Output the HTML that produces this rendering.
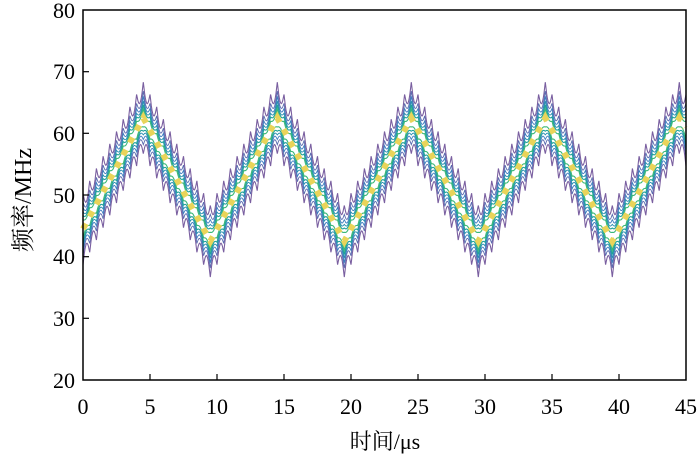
<!DOCTYPE html>
<html><head><meta charset="utf-8"><style>
body{margin:0;background:#fff;}
svg text{font-family:"Liberation Serif","Noto Serif CJK SC",serif;fill:#000;}
</style></head><body>
<svg id="s" width="700" height="460" viewBox="0 0 700 460" xmlns="http://www.w3.org/2000/svg">
<g id="curves"></g>
<rect x="83" y="10" width="603" height="370" fill="none" stroke="#000" stroke-width="1.5"/>
<g stroke="#000" stroke-width="1.2">
<line x1="83" y1="71.7" x2="89" y2="71.7"/><line x1="83" y1="133.3" x2="89" y2="133.3"/><line x1="83" y1="195" x2="89" y2="195"/><line x1="83" y1="256.7" x2="89" y2="256.7"/><line x1="83" y1="318.3" x2="89" y2="318.3"/>
<line x1="150" y1="380" x2="150" y2="374"/><line x1="217" y1="380" x2="217" y2="374"/><line x1="284" y1="380" x2="284" y2="374"/><line x1="351" y1="380" x2="351" y2="374"/><line x1="418" y1="380" x2="418" y2="374"/><line x1="485" y1="380" x2="485" y2="374"/><line x1="552" y1="380" x2="552" y2="374"/><line x1="619" y1="380" x2="619" y2="374"/>
</g>
<g font-size="22" text-anchor="end">
<text x="75" y="18">80</text><text x="75" y="79">70</text><text x="75" y="141">60</text><text x="75" y="203">50</text><text x="75" y="264">40</text><text x="75" y="326">30</text><text x="75" y="388">20</text>
</g>
<g font-size="22" text-anchor="middle">
<text x="83" y="414">0</text><text x="150" y="414">5</text><text x="217" y="414">10</text><text x="284" y="414">15</text><text x="351" y="414">20</text><text x="418" y="414">25</text><text x="485" y="414">30</text><text x="552" y="414">35</text><text x="619" y="414">40</text><text x="686" y="414">45</text>
<text x="385" y="449">时间/μs</text>
<text font-size="24" transform="translate(31,200) rotate(-90)">频率/MHz</text>
</g>
</svg>
<script>
var g=document.getElementById('curves');
function X(t){return 83+t*603/45;}
function Y(f){return 380-(f-20)*370/60;}
function c(t){var p=((t-4.5)%10+10)%10;var tri=p<5?1-p/2.5:-1+(p-5)/2.5;return 52.5+10*tri;}
var L=[[4.6,1.2,'#7a5fa0',1.1],[3.5,0.85,'#5a6bb0',0.9],[2.8,0.7,'#3f7ec0',0.9],[2.2,0.55,'#2a8fb0',0.9],[1.7,0.45,'#22a39a',1.1],[1.1,0.35,'#3cb878',1.1]];
var h='';
L.forEach(function(l){[1,-1].forEach(function(s){var d='';for(var t=0;t<=45;t+=0.05){var r=1-Math.abs(Math.sin(Math.PI*t/0.5));var f=c(t)+s*(l[0]+l[1]*(r-0.5)*2);d+=(t==0?'M':'L')+X(t).toFixed(1)+','+Y(f).toFixed(1);}h+='<path d="'+d+'" fill="none" stroke="'+l[2]+'" stroke-width="'+l[3]+'"/>';});});
var d='';for(var t=0;t<=45;t+=0.1){d+=(t==0?'M':'L')+X(t).toFixed(1)+','+Y(c(t)).toFixed(1);}
h+='<path d="'+d+'" fill="none" stroke="#e9d45a" stroke-width="6" stroke-dasharray="6 8"/>';
g.innerHTML=h;
</script>
</body></html>
